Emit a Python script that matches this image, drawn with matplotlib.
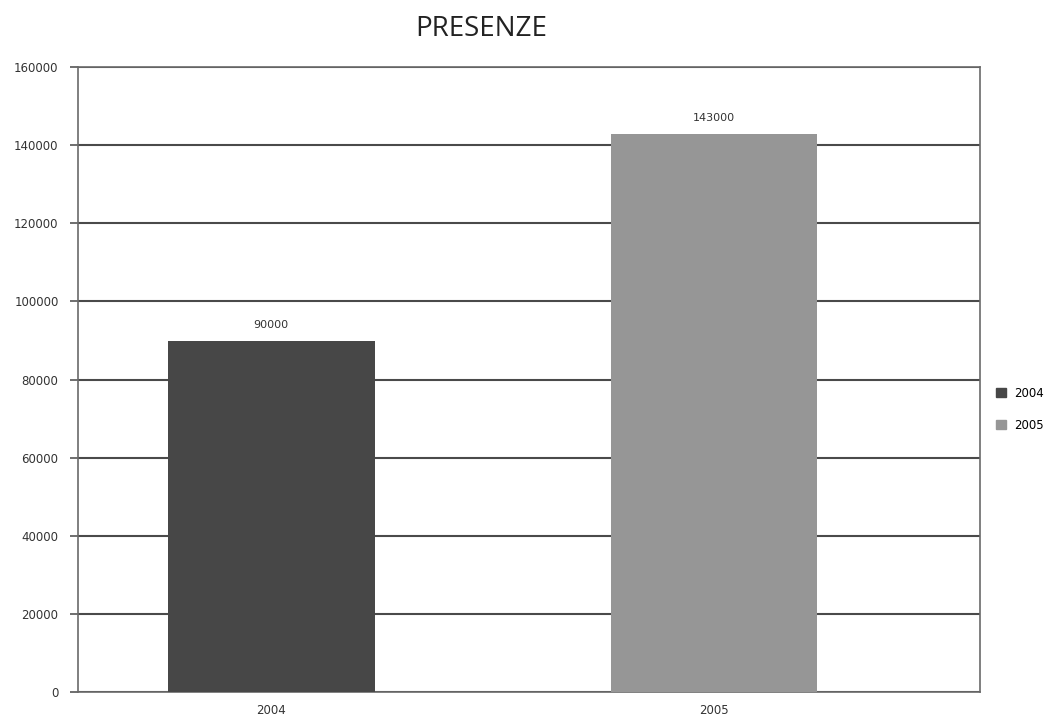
import matplotlib.pyplot as plt
import numpy as np

years = ['2004', '2005']
presenze = [90000, 143000]
bar_colors = ['#474747', '#969696']
yticks = [0, 20000, 40000, 60000, 80000, 100000, 120000, 140000, 160000]

plt.rcParams['font.family'] = ['DejaVu Sans']

fig = plt.figure(figsize=(10.46, 7.23), dpi=100)
ax = fig.add_axes([0.0746, 0.043, 0.862, 0.864])

x = np.arange(len(years))
bars = ax.bar(x, presenze, width=0.467, color=bar_colors, zorder=3, label=years)

for b, v in zip(bars, presenze):
    ax.text(b.get_x() + b.get_width() / 2, v + 2600, str(v),
            ha='center', va='bottom', fontsize=8, color='#333333')

ax.set_xlim(-0.436, 1.60)
ax.set_ylim(0, 160000)
ax.set_yticks(yticks)
ax.set_yticklabels([str(t) for t in yticks], fontsize=8.5, color='#333333')
ax.set_xticks(x)
ax.set_xticklabels(years, fontsize=8.5, color='#333333')
ax.tick_params(axis='x', length=0, pad=9)
ax.tick_params(axis='y', length=6, width=1.2, color='#555555', pad=8)

ax.grid(axis='y', color='#4a4a4a', linewidth=1.5, zorder=1)
for s in ax.spines.values():
    s.set_color('#6a6a6a')
    s.set_linewidth(1.2)

fig.text(0.46, 0.96, 'PRESENZE', ha='center', va='center', fontsize=20,
         color='#222222', family=['Open Sans', 'DejaVu Sans'])

handles = [plt.Rectangle((0, 0), 1, 1, color=c) for c in bar_colors]
fig.legend(handles, years, loc='center left', bbox_to_anchor=(0.947, 0.434),
           frameon=False, fontsize=8.5, handlelength=0.8, handleheight=0.8,
           handletextpad=0.7, labelspacing=1.6, borderpad=0)

fig.savefig('out.png', dpi=100)
